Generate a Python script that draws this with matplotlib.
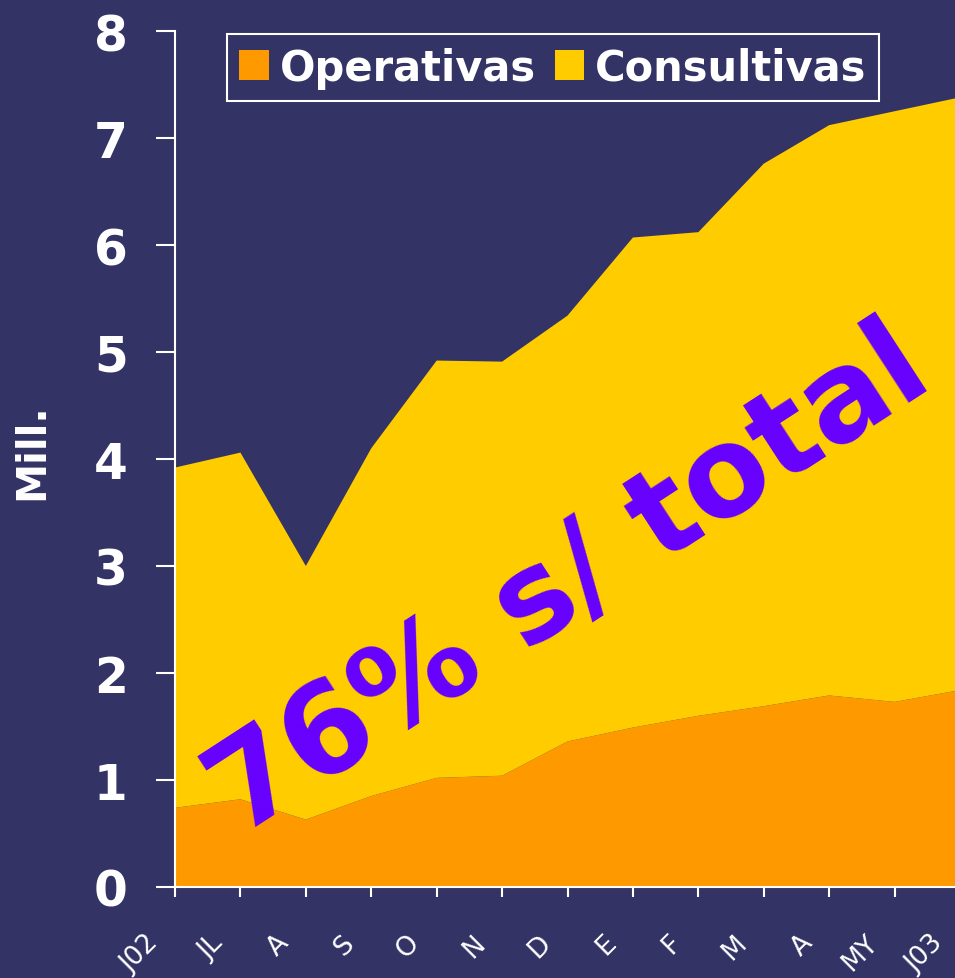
import matplotlib
matplotlib.use("Agg")
import matplotlib.pyplot as plt
import matplotlib.transforms as mtransforms
from matplotlib.patches import Patch
import numpy as np

# data (millions)
months = ["J02", "JL", "A", "S", "O", "N", "D", "E", "F", "M", "A", "MY", "J03"]
operativas = [0.74, 0.82, 0.63, 0.85, 1.02, 1.04, 1.36, 1.49, 1.60, 1.69, 1.79, 1.73, 1.84]
consultivas = [3.18, 3.24, 2.37, 3.25, 3.90, 3.87, 3.98, 4.58, 4.52, 5.07, 5.33, 5.52, 5.54]
series_names = ["Operativas", "Consultivas"]

bg = "#333366"
c_oper = "#FF9900"
c_cons = "#FFCC00"

fig = plt.figure(figsize=(9.55, 9.79), dpi=100, facecolor=bg)
ax = fig.add_axes([175 / 955, 1 - 888 / 979, 785 / 955, 856 / 979])
ax.set_facecolor(bg)

x = np.arange(len(months))
ax.stackplot(x, operativas, consultivas, colors=[c_oper, c_cons], linewidth=0)

ax.set_xlim(0, len(months) - 1)
ax.set_ylim(0, 8)

# spines
for s in ["top", "right"]:
    ax.spines[s].set_visible(False)
for s in ["left", "bottom"]:
    ax.spines[s].set_color("white")
    ax.spines[s].set_linewidth(1.5)
    ax.spines[s].set_zorder(5)

# y axis
ax.set_yticks(range(0, 9))
ax.tick_params(axis="y", colors="white", length=14, width=1.5, pad=20,
               labelsize=35)
for lab in ax.get_yticklabels():
    lab.set_fontweight("heavy")

# x axis
ax.set_xticks(x)
ax.set_xticklabels(months, rotation=45, ha="right", va="center",
                   rotation_mode="anchor", fontsize=19, color="white")
ax.tick_params(axis="x", colors="white", length=7, width=1.5, pad=0)
offset = mtransforms.ScaledTranslation(-0.21, -0.42, fig.dpi_scale_trans)
for lab in ax.get_xticklabels():
    lab.set_transform(lab.get_transform() + offset)

# y label
fig.text(32 / 955, 1 - 452 / 979, "Mill.", rotation=90, color="white",
         fontsize=29, fontweight="bold", ha="center", va="center")

# legend
handles = [Patch(facecolor=c_oper, edgecolor="none"),
           Patch(facecolor=c_cons, edgecolor="none")]
leg = ax.legend(handles, series_names, loc="center", ncol=2,
                bbox_to_anchor=(553 / 955, 1 - 68.5 / 979),
                bbox_transform=fig.transFigure,
                prop={"weight": "bold", "size": 30},
                handlelength=0.7, handleheight=0.7, handletextpad=0.27,
                columnspacing=0.45, borderpad=0.3, fancybox=False,
                framealpha=1, facecolor=bg, edgecolor="white")
leg.get_frame().set_linewidth(1.5)
for t in leg.get_texts():
    t.set_color("white")

# big annotation
fig.text(570 / 955, 1 - 582 / 979, "76% s/ total", rotation=33,
         rotation_mode="anchor", ha="center", va="center",
         color="#6600FF", fontsize=89, fontweight="bold", zorder=10)

fig.savefig("out.png", dpi=100, facecolor=bg)
